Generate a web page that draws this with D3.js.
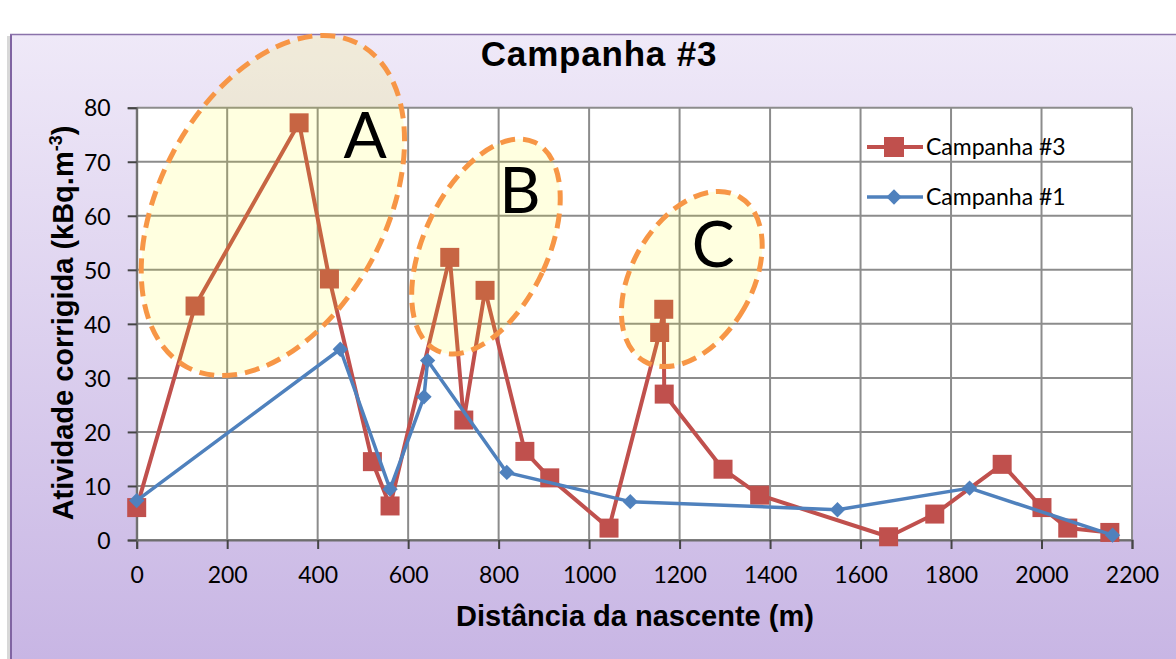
<!DOCTYPE html>
<html>
<head>
<meta charset="utf-8">
<script src="https://cdn.jsdelivr.net/npm/d3@7"></script>
<style>
  body { margin: 0; background: #fff; }
  svg { display: block; }
</style>
</head>
<body>
<div id="chart"></div>
<script>
// values
var campanha3X = [0, 129, 359, 426, 521, 560, 692, 723, 770, 858, 913, 1044, 1156, 1165, 1166, 1296, 1377, 1662, 1764, 1913, 2001, 2058, 2151];
var campanha3Y = [6, 43.3, 77.2, 48.3, 14.5, 6.3, 52.3, 22.2, 46.2, 16.4, 11.5, 2.2, 38.4, 42.7, 27.0, 13.1, 8.3, 0.6, 4.8, 14.0, 6.0, 2.2, 1.4];
var campanha1X = [0, 450, 560, 635, 643, 818, 1091, 1549, 1841, 2157];
var campanha1Y = [7.3, 35.3, 9.4, 26.5, 33.2, 12.5, 7.1, 5.6, 9.6, 0.9];
var xTicks = d3.range(0, 2201, 200);
var yTicks = d3.range(0, 81, 10);
var seriesNames = ["Campanha #3", "Campanha #1"];
// highlighted zones: label, centre (distance, activity)
var zoneLabels = ["A", "B", "C"];
var zoneCx = [301, 772, 1227];
var zoneCy = [61.9, 54.3, 48.3];
var zoneLabelX = [505, 847, 1274];
var zoneLabelY = [70.7, 60.6, 50.5];

var W = 1176, H = 659;
var margin = {top: 107.7, right: 44, bottom: 119, left: 136.7},
  width = W - margin.left - margin.right,
  height = H - margin.top - margin.bottom;

var svg = d3.select("#chart").append("svg")
  .attr("width", W)
  .attr("height", H);

// chart area background
var defs = svg.append("defs");
var grad = defs.append("linearGradient")
  .attr("id", "bg").attr("x1", 0).attr("y1", 0).attr("x2", 0).attr("y2", 1);
grad.append("stop").attr("offset", "0%").attr("stop-color", "#efe9f8");
grad.append("stop").attr("offset", "100%").attr("stop-color", "#c6b3e3");

svg.append("rect").attr("x", 7).attr("y", 36).attr("width", 3).attr("height", H)
  .attr("fill", "#d8d8d8");
svg.append("rect")
  .attr("x", 10).attr("y", 34).attr("width", W).attr("height", H)
  .attr("fill", "url(#bg)");
svg.append("line").attr("x1", 11).attr("x2", 11).attr("y1", 34).attr("y2", H)
  .attr("stroke", "#8064a2").attr("stroke-width", 2);
svg.append("line").attr("x1", 10).attr("x2", W).attr("y1", 34.5).attr("y2", 34.5)
  .attr("stroke", "#8a72aa").attr("stroke-width", 1.5);

// title
svg.append("text")
  .attr("x", 599).attr("y", 66)
  .attr("text-anchor", "middle")
  .style("font-family", "Liberation Sans, Arial, sans-serif")
  .style("font-weight", "bold")
  .style("font-size", "35px")
  .style("letter-spacing", "0.8px")
  .text("Campanha #3");

var g = svg.append("g")
  .attr("transform", "translate(" + margin.left + "," + margin.top + ")");

var x = d3.scaleLinear().domain([0, 2200]).range([0, width]);
var y = d3.scaleLinear().domain([0, 80]).range([height, 0]);

// plot area
g.append("rect").attr("width", width).attr("height", height).attr("fill", "#fff");

// grid
g.append("g").selectAll("line").data(xTicks).join("line")
  .attr("x1", d => x(d)).attr("x2", d => x(d))
  .attr("y1", 0).attr("y2", height)
  .attr("stroke", "#8c8c8c").attr("stroke-width", 2);
g.append("g").selectAll("line").data(yTicks).join("line")
  .attr("x1", 0).attr("x2", width)
  .attr("y1", d => y(d)).attr("y2", d => y(d))
  .attr("stroke", "#8c8c8c").attr("stroke-width", 2);

// axes
var xAxis = g.append("g")
  .attr("transform", "translate(0," + height + ")")
  .call(d3.axisBottom(x).tickValues(xTicks).tickFormat(d3.format("d")).tickSize(9).tickPadding(18));
var yAxis = g.append("g")
  .call(d3.axisLeft(y).tickValues(yTicks).tickFormat(d3.format("d")).tickSize(9).tickPadding(17));
[xAxis, yAxis].forEach(ax => {
  ax.select(".domain").attr("stroke", "#6e6e6e").attr("stroke-width", 2);
  ax.selectAll(".tick line").attr("stroke", "#444").attr("stroke-width", 2);
  ax.selectAll(".tick text")
    .style("font-family", "Lato, Open Sans, sans-serif")
    .style("font-size", "23px")
    .attr("fill", "#000");
});
yAxis.selectAll(".tick text").attr("dy", "0.36em");

// axis titles
svg.append("text")
  .attr("x", 635).attr("y", 626)
  .attr("text-anchor", "middle")
  .style("font-family", "Liberation Sans, Arial, sans-serif")
  .style("font-weight", "bold")
  .style("font-size", "29px")
  .text("Distância da nascente (m)");

var yt = svg.append("text")
  .attr("transform", "translate(73,323) rotate(-90)")
  .attr("text-anchor", "middle")
  .style("font-family", "Liberation Sans, Arial, sans-serif")
  .style("font-weight", "bold")
  .style("font-size", "29px");
yt.append("tspan").text("Atividade corrigida (kBq.m");
yt.append("tspan").attr("dy", -11).style("font-size", "18px").text("-3");
yt.append("tspan").attr("dy", 11).text(")");

// series
var red = "#c0504d", blue = "#4f81bd";
var data3 = campanha3X.map((d, i) => ({x: d, y: campanha3Y[i]}));
var data1 = campanha1X.map((d, i) => ({x: d, y: campanha1Y[i]}));
var line = d3.line().x(d => x(d.x)).y(d => y(d.y));

g.append("path").datum(data3)
  .attr("d", line).attr("fill", "none")
  .attr("stroke", red).attr("stroke-width", 4).attr("stroke-linejoin", "round");
g.append("g").selectAll("rect").data(data3).join("rect")
  .attr("x", d => x(d.x) - 9.5).attr("y", d => y(d.y) - 9.5)
  .attr("width", 19).attr("height", 19)
  .attr("fill", red);

g.append("path").datum(data1)
  .attr("d", line).attr("fill", "none")
  .attr("stroke", blue).attr("stroke-width", 3.5).attr("stroke-linejoin", "round");
g.append("g").selectAll("path").data(data1).join("path")
  .attr("d", d3.symbol().type(d3.symbolDiamond2).size(150))
  .attr("transform", d => "translate(" + x(d.x) + "," + y(d.y) + ")")
  .attr("fill", blue);

// highlighted zones (drawn over the data, translucent)
var zoneRx = [113, 62, 60], zoneRy = [183, 115, 95], zoneRot = [28, 25, 30];
var zones = g.append("g");
zoneLabels.forEach((lab, i) => {
  zones.append("ellipse")
    .attr("transform", "translate(" + x(zoneCx[i]) + "," + y(zoneCy[i]) + ") rotate(" + zoneRot[i] + ")")
    .attr("rx", zoneRx[i]).attr("ry", zoneRy[i])
    .attr("fill", "rgba(255,255,0,0.12)")
    .attr("stroke", "#f79646").attr("stroke-width", 5)
    .attr("stroke-dasharray", "15 8");
  zones.append("text")
    .attr("x", x(zoneLabelX[i])).attr("y", y(zoneLabelY[i]))
    .attr("text-anchor", "middle")
    .style("font-family", "Lato, Open Sans, sans-serif")
    .style("font-size", "64px")
    .text(lab);
});

// legend
var legend = svg.append("g").attr("transform", "translate(867,147)");
var lg3 = legend.append("g");
lg3.append("line").attr("x1", 0).attr("x2", 56).attr("stroke", red).attr("stroke-width", 4);
lg3.append("rect").attr("x", 17).attr("y", -10).attr("width", 20).attr("height", 20).attr("fill", red);
lg3.append("text").attr("x", 59).attr("y", 8)
  .style("font-family", "Lato, Open Sans, sans-serif").style("font-size", "23px")
  .text(seriesNames[0]);
var lg1 = legend.append("g").attr("transform", "translate(0,50)");
lg1.append("line").attr("x1", 0).attr("x2", 56).attr("stroke", blue).attr("stroke-width", 3.5);
lg1.append("path").attr("transform", "translate(27,0)")
  .attr("d", d3.symbol().type(d3.symbolDiamond2).size(150)).attr("fill", blue);
lg1.append("text").attr("x", 59).attr("y", 8)
  .style("font-family", "Lato, Open Sans, sans-serif").style("font-size", "23px")
  .text(seriesNames[1]);
</script>
</body>
</html>
